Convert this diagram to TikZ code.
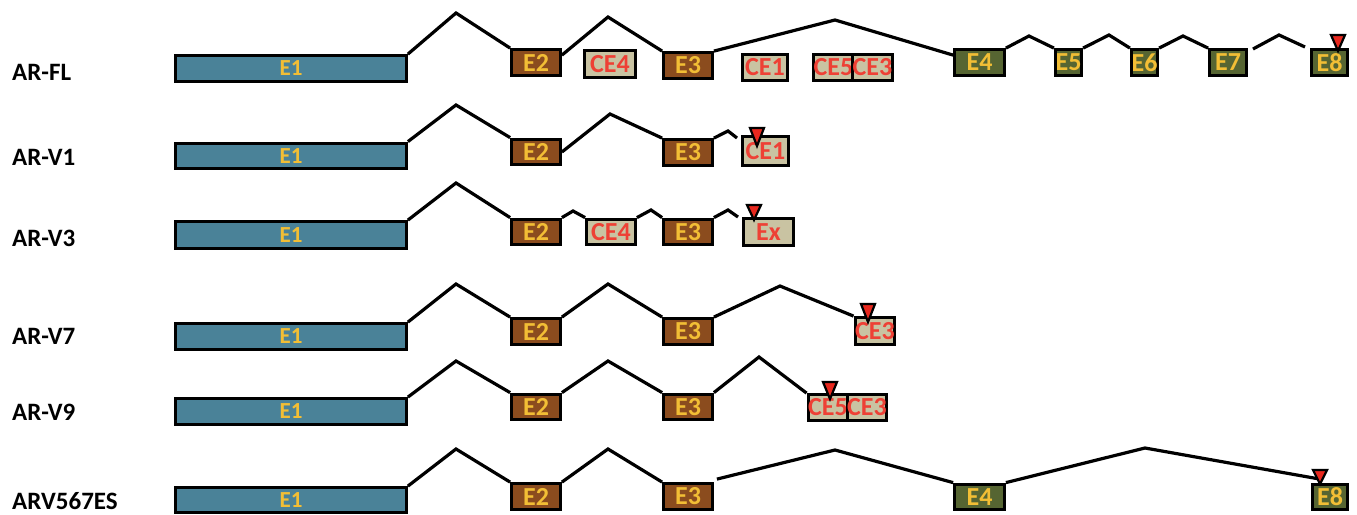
\documentclass[tikz,border=0pt]{standalone}
\usepackage{fontspec}
\setmainfont{Carlito}[BoldFont={Carlito Bold}]
\definecolor{tealE}{HTML}{4A8298}
\definecolor{brownE}{HTML}{8B4C1E}
\definecolor{oliveE}{HTML}{566532}
\definecolor{tanE}{HTML}{C9C3A2}
\definecolor{yellowT}{HTML}{F2BE35}
\definecolor{redT}{HTML}{EE4035}
\definecolor{redM}{HTML}{E8281E}
\begin{document}
\begin{tikzpicture}[x=1pt,y=-1pt,
  box/.style={draw=black, line width=3.3pt, inner sep=0pt, minimum height=25.5pt,
    font=\bfseries\fontsize{26}{26}\selectfont},
  exone/.style={box, fill=tealE, text=yellowT, minimum width=230.5pt,
    font=\bfseries\fontsize{23}{23}\selectfont},
  exbrown/.style={box, fill=brownE, text=yellowT, minimum width=48.5pt},
  exolive/.style={box, fill=oliveE, text=yellowT},
  crypt/.style={box, fill=tanE, text=redT},
  intron/.style={draw=black, line width=3.2pt, line join=miter},
  lbl/.style={anchor=west, inner sep=0pt, font=\bfseries\fontsize{25}{25}\selectfont},
  stopmark/.style={fill=redM, draw=black, line width=2.2pt, line join=miter}]
\useasboundingbox (0,0) rectangle (1357,514);

% ---------------- AR-FL ----------------
\node[lbl] (lfl) at (12,72) {AR-FL};
\node[exone] (fle1) at (291,68.5) {E1};
\node[exbrown] (fle2) at (536,62.5) {E2};
\node[crypt, minimum width=50.5pt, minimum height=26.5pt] (flce4) at (610,64) {CE4};
\node[exbrown] (fle3) at (688,65.5) {E3};
\node[crypt, minimum width=44.5pt] (flce1) at (765,67.5) {CE1};
\node[crypt, minimum width=35.5pt] (flce5) at (833.5,67.5) {CE5};
\node[crypt, minimum width=35.5pt] (flce3) at (872.5,67.5) {CE3};
\node[exolive, minimum width=49.5pt] (fle4) at (979.5,62.5) {E4};
\node[exolive, minimum width=25.5pt] (fle5) at (1068.5,62.5) {E5};
\node[exolive, minimum width=24.5pt] (fle6) at (1144.5,62.5) {E6};
\node[exolive, minimum width=36.5pt] (fle7) at (1228,62.5) {E7};
\node[exolive, minimum width=35.5pt] (fle8) at (1329.5,62.5) {E8};
\coordinate (flp1) at (456,13);
\coordinate (flp2) at (608,17);
\coordinate (flp3) at (835,20);
\coordinate (flp4) at (1029,36);
\coordinate (flp5) at (1109,35);
\coordinate (flp6) at (1183,36);
\coordinate (fla) at (1253,49);
\coordinate (flp7) at (1279,35);
\coordinate (flb) at (1305,47);
\draw[intron] (fle1.north east) -- (flp1) -- (fle2.north west);
\draw[intron] ([yshift=-7pt]fle2.north east) -- (flp2) -- (fle3.north west);
\draw[intron] (fle3.north east) -- (flp3) -- ([yshift=-7pt]fle4.north west);
\draw[intron] (fle4.north east) -- (flp4) -- (fle5.north west);
\draw[intron] (fle5.north east) -- (flp5) -- (fle6.north west);
\draw[intron] (fle6.north east) -- (flp6) -- (fle7.north west);
\draw[intron] (fla) -- (flp7) -- (flb);

% ---------------- AR-V1 ----------------
\node[lbl] (lv1) at (12,157) {AR-V1};
\node[exone] (v1e1) at (291,156) {E1};
\node[exbrown] (v1e2) at (536,152) {E2};
\node[exbrown] (v1e3) at (688,152.5) {E3};
\node[crypt, minimum width=45.5pt, minimum height=28.5pt] (v1ce1) at (765.5,151) {CE1};
\coordinate (v1p1) at (456,105);
\coordinate (v1p2) at (610,114);
\coordinate (v1p3) at (728,131);
\coordinate (v1end) at (737,138);
\draw[intron] (v1e1.north east) -- (v1p1) -- (v1e2.north west);
\draw[intron] (v1e2.east) -- (v1p2) -- (v1e3.north west);
\draw[intron] (v1e3.north east) -- (v1p3) -- (v1end);

% ---------------- AR-V3 ----------------
\node[lbl] (lv3) at (12,238) {AR-V3};
\node[exone, minimum height=26.5pt] (v3e1) at (291,235) {E1};
\node[exbrown] (v3e2) at (536,232) {E2};
\node[crypt, minimum width=48.5pt] (v3ce4) at (611,232) {CE4};
\node[exbrown] (v3e3) at (688,232) {E3};
\node[crypt, minimum width=49.5pt, minimum height=26.5pt] (v3ex) at (768.5,232) {Ex};
\coordinate (v3p1) at (456,183);
\coordinate (v3p2) at (573,211);
\coordinate (v3p3) at (651,210);
\coordinate (v3p4) at (728,210);
\coordinate (v3end) at (738,217);
\draw[intron] (v3e1.north east) -- (v3p1) -- (v3e2.north west);
\draw[intron] (v3e2.north east) -- (v3p2) -- (v3ce4.north west);
\draw[intron] (v3ce4.north east) -- (v3p3) -- (v3e3.north west);
\draw[intron] (v3e3.north east) -- (v3p4) -- (v3end);

% ---------------- AR-V7 ----------------
\node[lbl] (lv7) at (12,336) {AR-V7};
\node[exone] (v7e1) at (291,336.5) {E1};
\node[exbrown] (v7e2) at (536,331.5) {E2};
\node[exbrown] (v7e3) at (688,331.5) {E3};
\node[crypt, minimum width=36.5pt, minimum height=26.5pt] (v7ce3) at (875,331) {CE3};
\coordinate (v7p1) at (456,284);
\coordinate (v7p2) at (608,284);
\coordinate (v7p3) at (780,286);
\draw[intron] (v7e1.north east) -- (v7p1) -- (v7e2.north west);
\draw[intron] (v7e2.north east) -- (v7p2) -- (v7e3.north west);
\draw[intron] (v7e3.north east) -- (v7p3) -- (v7ce3.north west);

% ---------------- AR-V9 ----------------
\node[lbl] (lv9) at (12,412) {AR-V9};
\node[exone] (v9e1) at (291,411.5) {E1};
\node[exbrown] (v9e2) at (536,407) {E2};
\node[exbrown] (v9e3) at (688,407) {E3};
\node[crypt, minimum width=34.5pt] (v9ce5) at (828,407.5) {CE5};
\node[crypt, minimum width=36.5pt] (v9ce3) at (867,407.5) {CE3};
\coordinate (v9p1) at (456,361);
\coordinate (v9p2) at (608,361);
\coordinate (v9p3) at (759,357);
\draw[intron] (v9e1.north east) -- (v9p1) -- (v9e2.north west);
\draw[intron] (v9e2.north east) -- (v9p2) -- (v9e3.north west);
\draw[intron] (v9e3.north east) -- (v9p3) -- (v9ce5.north west);

% ---------------- ARV567ES ----------------
\node[lbl] (les) at (12,501) {ARV567ES};
\node[exone, minimum height=24.5pt] (ese1) at (291,500) {E1};
\node[exbrown] (ese2) at (536,496.5) {E2};
\node[exbrown] (ese3) at (688,496.5) {E3};
\node[exolive, minimum width=49.5pt] (ese4) at (979.5,497) {E4};
\node[exolive, minimum width=34.5pt] (ese8) at (1330,497) {E8};
\coordinate (esp1) at (456,449);
\coordinate (esp2) at (608,449);
\coordinate (esp3) at (835,450);
\coordinate (esp4) at (1145,448);
\draw[intron] (ese1.north east) -- (esp1) -- (ese2.north west);
\draw[intron] (ese2.north east) -- (esp2) -- (ese3.north west);
\draw[intron] ([xshift=3pt,yshift=3pt]ese3.north east) -- (esp3) -- (ese4.north west);
\draw[intron] (ese4.north east) -- (esp4) -- ([xshift=6pt,yshift=4pt]ese8.north west);

% ---------------- stop markers ----------------
\draw[stopmark] (1331,35) -- (1345,35) -- (1338,51) -- cycle;
\draw[stopmark] (750,128) -- (764,128) -- (757,146) -- cycle;
\draw[stopmark] (747,205) -- (761,205) -- (754,220) -- cycle;
\draw[stopmark] (861,304) -- (875,304) -- (868,322) -- cycle;
\draw[stopmark] (823,382) -- (837,382) -- (830,399) -- cycle;
\draw[stopmark] (1313,470) -- (1327,470) -- (1320,484) -- cycle;
\end{tikzpicture}
\end{document}
